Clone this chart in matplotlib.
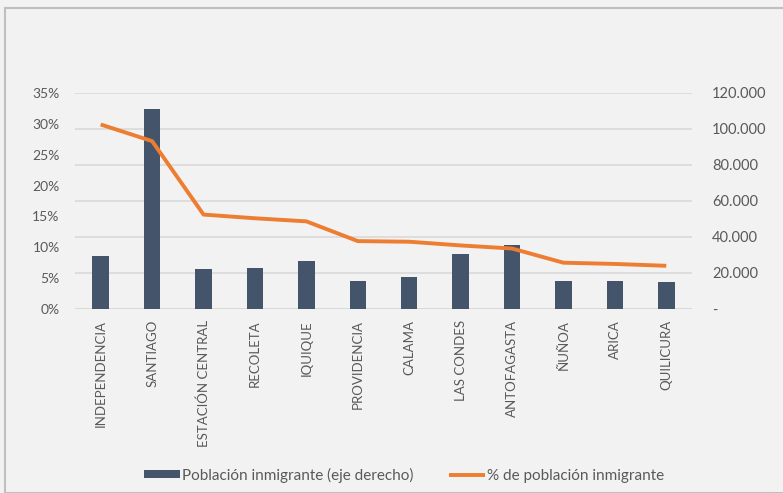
#!/usr/bin/env python3
"""Población inmigrante por comuna: barras (eje derecho) y % (eje izquierdo)."""
import matplotlib
matplotlib.use("Agg")
import matplotlib.pyplot as plt
from matplotlib.patches import Rectangle
from matplotlib.ticker import FuncFormatter
import numpy as np

plt.rcParams["font.family"] = ["Lato", "DejaVu Sans"]

COMUNAS = [
    "INDEPENDENCIA", "SANTIAGO", "ESTACIÓN CENTRAL", "RECOLETA", "IQUIQUE",
    "PROVIDENCIA", "CALAMA", "LAS CONDES", "ANTOFAGASTA", "ÑUÑOA", "ARICA",
    "QUILICURA",
]
POBLACION = [29500, 110900, 22000, 23000, 26700, 15500, 17700, 30400, 35500,
             15400, 15400, 14800]
PCT = [0.299, 0.272, 0.153, 0.147, 0.142, 0.110, 0.109, 0.103, 0.098,
       0.075, 0.073, 0.070]

BAR_LABEL = "Población inmigrante (eje derecho)"
LINE_LABEL = "% de población inmigrante"

BAR_COLOR = "#44546a"
LINE_COLOR = "#ed7d31"
TEXT = "#595959"
GRID = "#d9d9d9"
BG = "#f2f2f2"


def miles(v, _pos):
    if v == 0:
        return "-"
    return f"{int(v):,}".replace(",", ".")


fig = plt.figure(figsize=(7.83, 4.93), dpi=100, facecolor=BG)
fig.patches.append(Rectangle((5 / 783, 0), 1.2, (493 - 8) / 493,
                             transform=fig.transFigure, fill=False,
                             edgecolor="#bfbfbf", linewidth=1.5))

ax = fig.add_axes([75 / 783, (493 - 309) / 493, 617 / 783, 216 / 493])
ax.set_facecolor(BG)
ax2 = ax.twinx()

x = np.arange(len(COMUNAS))
ax2.bar(x, POBLACION, width=0.32, color=BAR_COLOR, label=BAR_LABEL, zorder=2)
ax2.set_ylim(0, 120000)
ax2.yaxis.set_major_locator(plt.MultipleLocator(20000))
ax2.yaxis.set_major_formatter(FuncFormatter(miles))

ax.set_zorder(ax2.get_zorder() + 1)
ax.patch.set_visible(False)
ax.plot(x, PCT, color=LINE_COLOR, linewidth=2.8, label=LINE_LABEL,
        solid_capstyle="butt", zorder=3)
ax.set_ylim(0, 0.35)
ax.yaxis.set_major_locator(plt.MultipleLocator(0.05))
ax.yaxis.set_major_formatter(FuncFormatter(lambda v, p: f"{v * 100:.0f}%"))
ax.set_xlim(-0.5, len(COMUNAS) - 0.5)

for a in (ax, ax2):
    for s in a.spines.values():
        s.set_visible(False)
    a.tick_params(length=0, colors=TEXT, labelsize=9.5)
ax.tick_params(axis="y", pad=11, labelsize=10)
ax2.tick_params(axis="y", pad=14.5, labelsize=10.5)

# gridlines drawn behind the bars
ax2.set_axisbelow(True)
ax2.grid(axis="y", color=GRID, linewidth=1.2, zorder=0)
ax2.axhline(0, color=GRID, linewidth=1.2, zorder=1)

ax.set_xticks(x)
ax.set_xticklabels(COMUNAS, rotation=90, va="top", ha="center")
ax.tick_params(axis="x", pad=8)

h1, l1 = ax2.get_legend_handles_labels()
h2, l2 = ax.get_legend_handles_labels()
fig.legend(h1 + h2, l1 + l2, loc="center left",
           bbox_to_anchor=(144 / 783, 18 / 493),
           ncol=2, frameon=False, fontsize=11, labelcolor=TEXT,
           handlelength=2.35, handleheight=0.5, handletextpad=0.15,
           columnspacing=2.3, borderpad=0, borderaxespad=0)

fig.savefig("out.png", dpi=100, facecolor=BG)
